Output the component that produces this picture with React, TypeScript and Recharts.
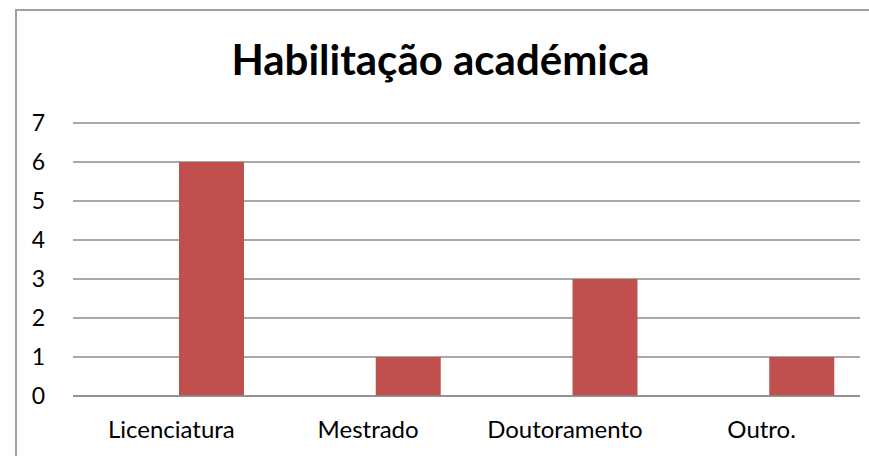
import React from 'react';
import { BarChart, Bar, XAxis, YAxis, CartesianGrid } from 'recharts';

// categorias e valores
const categorias = ['Licenciatura', 'Mestrado', 'Doutoramento', 'Outro.'];
const serieVazia = [null, null, null, null];
const respostas = [6, 1, 3, 1];
const yTicks = [0, 1, 2, 3, 4, 5, 6, 7];

const data = categorias.map((c, i) => ({
  categoria: c,
  vazia: serieVazia[i],
  valor: respostas[i],
}));

const FONT = 'Lato, "Open Sans", sans-serif';

const App = () => {
  return (
    <div style={{ position: 'absolute', left: 0, top: 0, width: 869, height: 456, background: '#fff', overflow: 'hidden' }}>
      {/* moldura do gráfico (Excel) */}
      <div
        style={{
          position: 'absolute',
          left: 15,
          top: 9,
          width: 900,
          height: 500,
          borderLeft: '2px solid #a0a0a0',
          borderTop: '2px solid #a0a0a0',
        }}
      />
      <div
        style={{
          position: 'absolute',
          left: 0,
          width: 881,
          top: 33,
          textAlign: 'center',
          fontFamily: FONT,
          fontWeight: 700,
          fontSize: 42,
          lineHeight: '52px',
          color: '#000',
        }}
      >
        Habilitação académica
      </div>
      <div style={{ position: 'absolute', left: 0, top: 0 }}>
        <BarChart
          width={869}
          height={456}
          data={data}
          margin={{ top: 123, right: 9, left: 0, bottom: 30 }}
          barGap={15}
          barSize={65}
        >
          <CartesianGrid vertical={false} stroke="#8c8c8c" strokeWidth={1.5} />
          <XAxis
            dataKey="categoria"
            tickLine={false}
            axisLine={{ stroke: '#8c8c8c', strokeWidth: 1.5 }}
            tickSize={0}
            tickMargin={25}
            tick={{ fill: '#000', fontSize: 24, fontFamily: FONT }}
            interval={0}
          />
          <YAxis
            domain={[0, 7]}
            ticks={yTicks}
            width={73}
            axisLine={false}
            tickLine={false}
            tickSize={0}
            tickMargin={28}
            tick={{ fill: '#000', fontSize: 23, fontFamily: FONT }}
            interval={0}
          />
          <Bar dataKey="vazia" fill="#4F81BD" isAnimationActive={false} />
          <Bar dataKey="valor" fill="#C0504D" isAnimationActive={false} />
        </BarChart>
      </div>
    </div>
  );
};

export default App;
